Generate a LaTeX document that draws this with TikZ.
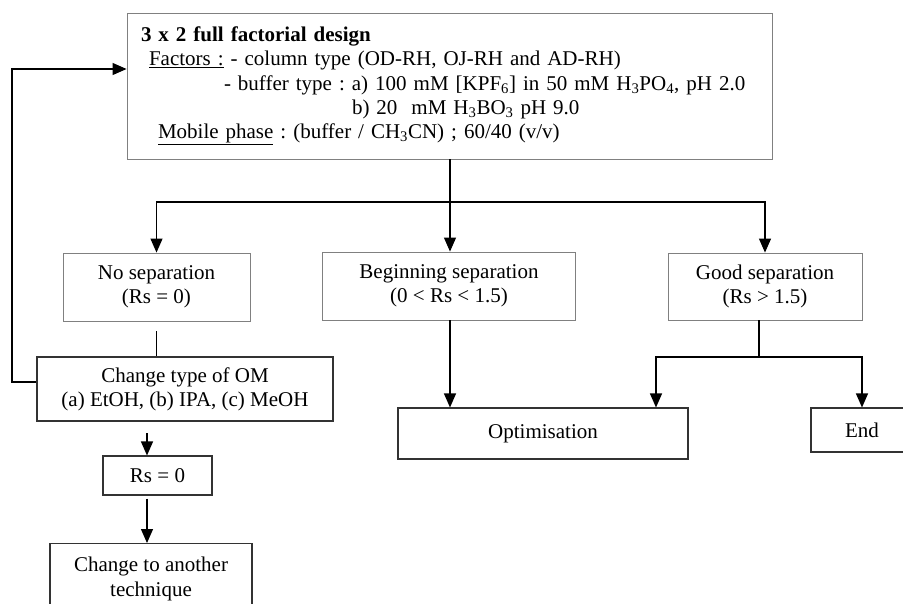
\documentclass[tikz,border=0pt]{standalone}
\usepackage{fontspec}
\setmainfont{Liberation Serif}
\usetikzlibrary{arrows.meta}
\frenchspacing

\begin{document}
\begin{tikzpicture}[x=1pt,y=-1pt,
    font=\fontsize{21}{24.2}\selectfont,
    box/.style={draw=black!50,line width=0.9pt,align=center,inner sep=0pt},
    boxd/.style={draw=black!80,line width=1.1pt,align=center,inner sep=0pt},
    link/.style={line width=1.2pt},
    arr/.style={link,-{Triangle[length=14pt,width=12pt]}}]
  \clip (0,0) rectangle (903,603);

  \coordinate (split) at (450,202);
  \coordinate (gsplit) at (759,357);
  \coordinate (gleft) at (656,357);
  \coordinate (back) at (12,69);
  \coordinate (colL) at (147,433);

  \node[box,minimum width=645pt,minimum height=146pt,text width=617pt,align=left] (design) at (449.5,86)
    {\textbf{3 x 2 full factorial design}\\
     \hspace*{8pt}\underline{Factors :} - column type (OD-RH, OJ-RH and AD-RH)\\
     \hspace*{83pt}- buffer type : a) 100 mM [KPF\textsubscript{6}] in 50 mM H\textsubscript{3}PO\textsubscript{4}, pH 2.0\\
     \hspace*{211pt}b) 20~~mM H\textsubscript{3}BO\textsubscript{3} pH 9.0\\
     \hspace*{17pt}\underline{Mobile phase} : (buffer / CH\textsubscript{3}CN) ; 60/40 (v/v)};

  \node[box,minimum width=187pt,minimum height=68pt] (nosep) at (156.5,287) {No separation\\(Rs = 0)};
  \node[box,minimum width=253pt,minimum height=68pt] (begin) at (449,286) {Beginning separation\\(0 < Rs < 1.5)};
  \node[box,minimum width=194pt,minimum height=67pt] (good) at (765,286.5) {Good separation\\(Rs > 1.5)};
  \node[boxd,minimum width=296pt,minimum height=64pt] (chg) at (185,389) {Change type of OM\\(a) EtOH, (b) IPA, (c) MeOH};
  \node[boxd,minimum width=290pt,minimum height=51pt] (optim) at (543,433.5) {Optimisation};
  \node[boxd,minimum width=102pt,minimum height=44pt] (endbox) at (862,430) {End};
  \node[boxd,minimum width=109pt,minimum height=39pt] (rs0) at (157.5,475.5) {Rs = 0};
  \node[boxd,minimum width=202pt,minimum height=70pt,anchor=north] (other) at (151,543) {Change to another\\[1pt]technique};

  \draw[link] (design.south -| split) -- (split);
  \draw[arr] (split) -| (nosep.north);
  \draw[arr] (split) -- (split |- begin.north);
  \draw[arr] (split) -| (good.north);
  \draw[arr] (split |- begin.south) -- (split |- optim.north);
  \draw[link] (gsplit |- good.south) -- (gsplit);
  \draw[arr] (gsplit) -- (gleft) -- (gleft |- optim.north);
  \draw[arr] (gsplit) -| (endbox.north);
  \draw[link] ([yshift=-10pt]nosep.south) -- (nosep.south |- chg.north);
  \draw[arr] ([yshift=7pt]chg.west) -| (back) -- (back -| design.west);
  \draw[arr] (colL) -- (colL |- rs0.north);
  \draw[arr,shorten <=3pt] (colL |- rs0.south) -- (colL |- other.north);
\end{tikzpicture}
\end{document}
